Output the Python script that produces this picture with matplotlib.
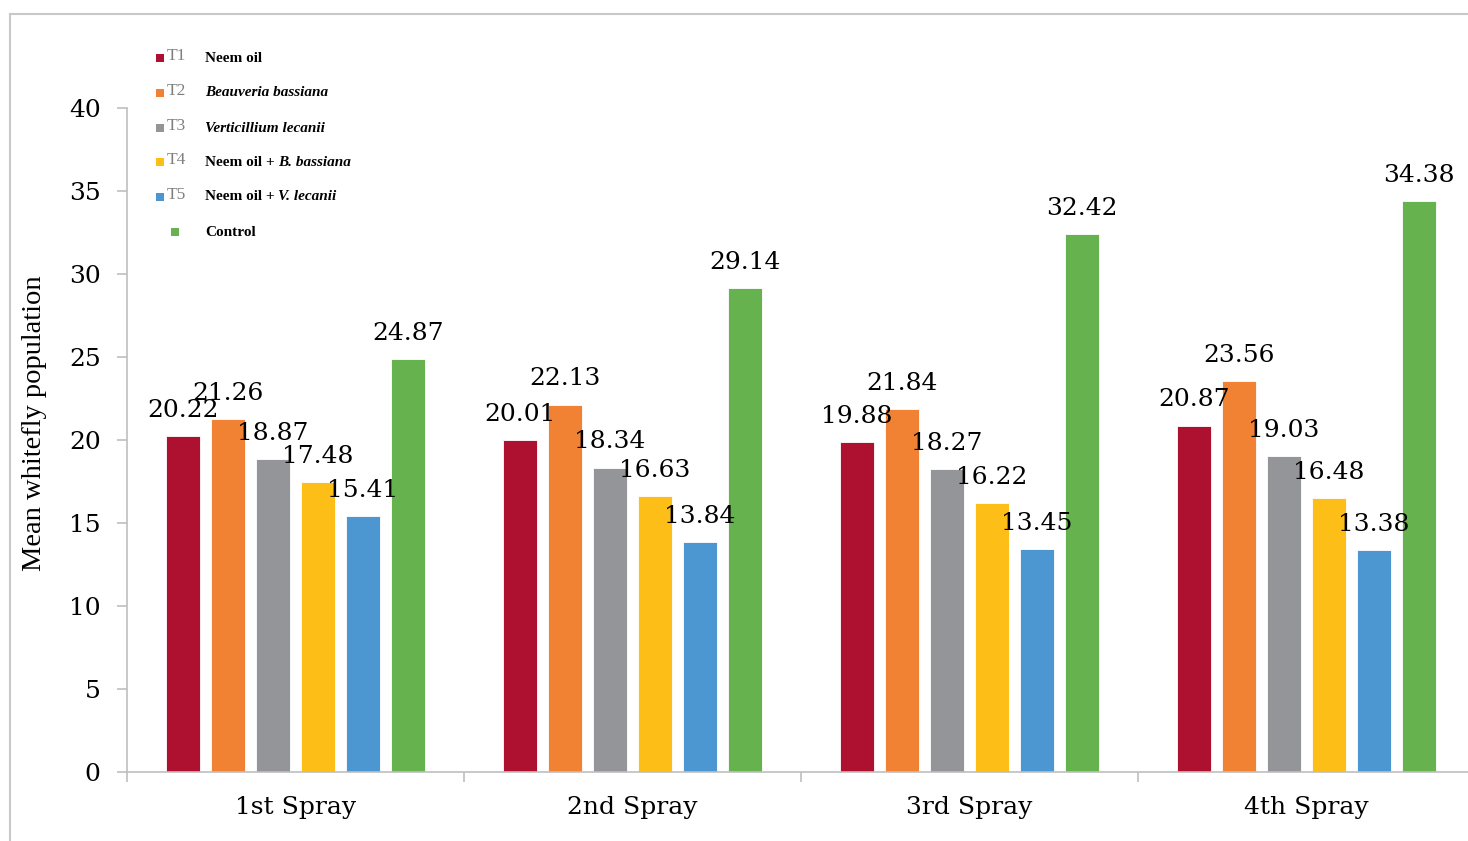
import numpy as np
import matplotlib
matplotlib.use('Agg')
import matplotlib.pyplot as plt
from matplotlib.patches import Rectangle

# data
sprays = ['1st Spray', '2nd Spray', '3rd Spray', '4th Spray']
codes = ['T1', 'T2', 'T3', 'T4', 'T5', '']
t1 = [20.22, 20.01, 19.88, 20.87]
t2 = [21.26, 22.13, 21.84, 23.56]
t3 = [18.87, 18.34, 18.27, 19.03]
t4 = [17.48, 16.63, 16.22, 16.48]
t5 = [15.41, 13.84, 13.45, 13.38]
control = [24.87, 29.14, 32.42, 34.38]
series = [t1, t2, t3, t4, t5, control]
colors = ['#AE1130', '#F18133', '#939598', '#FDBE18', '#4C97D2', '#66B24F']
yticks = [0, 5, 10, 15, 20, 25, 30, 35, 40]

W, H = 1468, 841
fig = plt.figure(figsize=(W / 100, H / 100), dpi=100)

# outer frame
fig.patches.append(Rectangle((10 / W, -0.1), 1.2, 1 - 14 / H + 0.1, transform=fig.transFigure,
                             fill=False, edgecolor='#C8C8C8', linewidth=1.5))

ax = fig.add_axes([127 / W, 69 / H, 1348 / W, 664 / H])
x = np.arange(len(sprays))
slot = 45 / 337
bw = 34 / 337
for i, (vals, c) in enumerate(zip(series, colors)):
    pos = x + (i - 2.5) * slot
    bars = ax.bar(pos, vals, bw, color=c, edgecolor='white', linewidth=0.6, zorder=2)
    for b, v in zip(bars, vals):
        ax.annotate('{:.2f}'.format(v), (b.get_x() + b.get_width() / 2, v),
                    xytext=(0, 18.5), textcoords='offset points', ha='center', va='center',
                    fontsize=18, family='DejaVu Serif', zorder=3)

ax.set_ylim(0, 40)
ax.set_xlim(-0.5, 3.5)
ax.set_yticks(yticks)
ax.set_yticklabels([str(t) for t in yticks], family='DejaVu Serif', fontsize=18)
ax.set_xticks(x)
ax.set_xticklabels(sprays, family='DejaVu Serif', fontsize=18)
ax.set_xticks(np.arange(-0.5, 3.6, 1), minor=True)
ax.tick_params(axis='x', which='major', length=0, pad=17)
ax.tick_params(axis='x', which='minor', length=7, color='#BFBFBF', width=1.2)
ax.tick_params(axis='y', length=7, color='#BFBFBF', width=1.2, pad=12)
for s in ['top', 'right']:
    ax.spines[s].set_visible(False)
for s in ['left', 'bottom']:
    ax.spines[s].set_color('#BFBFBF')
    ax.spines[s].set_linewidth(1.2)

fig.text(35 / W, 1 - 423 / H, 'Mean whitefly population', rotation=90, ha='center', va='center',
         family='Liberation Serif', fontsize=20.5)

# legend drawn by hand
labels = [[('Neem oil', 'normal')],
          [('Beauveria bassiana', 'italic')],
          [('Verticillium lecanii', 'italic')],
          [('Neem oil + ', 'normal'), ('B. bassiana', 'italic')],
          [('Neem oil + ', 'normal'), ('V. lecanii', 'italic')],
          [('Control', 'normal')]]
rows = [58, 93, 128, 162, 197, 232]
renderer = fig.canvas.get_renderer()
for code, parts, c, yy in zip(codes, labels, colors, rows):
    fy = 1 - yy / H
    mx = 160 if code else 175
    fig.patches.append(Rectangle(((mx - 4) / W, fy - 4 / H), 8 / W, 8 / H,
                                 transform=fig.transFigure, facecolor=c, edgecolor='none'))
    if code:
        fig.text(167 / W, fy + 2 / H, code, ha='left', va='center', family='Liberation Serif',
                 fontsize=12.5, color='#7F7F7F')
    px = 205
    for txt, st in parts:
        t = fig.text(px / W, fy, txt, ha='left', va='center', family='Liberation Serif',
                     fontsize=11, fontweight='bold', style=st)
        px = t.get_window_extent(renderer=renderer).x1

fig.savefig('out.png', dpi=100)
